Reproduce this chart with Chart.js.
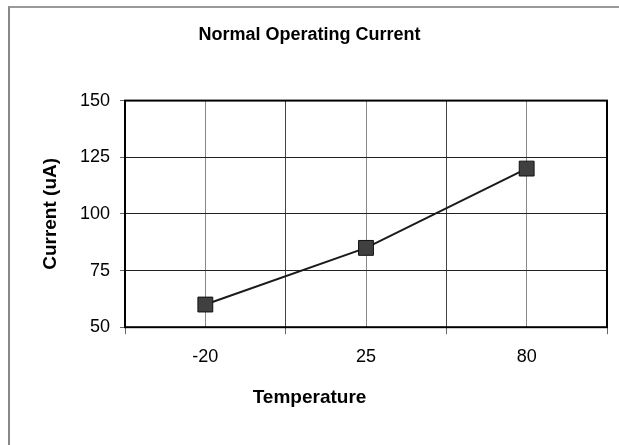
<!DOCTYPE html>
<html>
<head>
<meta charset="utf-8">
<script src="https://cdn.jsdelivr.net/npm/chart.js@4"></script>
<style>
  html, body { margin: 0; padding: 0; background: #fff; overflow: hidden; }
  #frame { position: absolute; left: 8px; top: 6px; width: 700px; height: 500px;
           border-left: 2px solid #888; border-top: 2px solid #999; }
  #chart { position: absolute; left: 0; top: 0; }
</style>
</head>
<body>
<div id="frame"></div>
<canvas id="chart" width="619" height="445"></canvas>
<script>
// datos del gráfico
const temperatures = ['-20', '25', '80'];
const currentUA = [60, 85, 120];
const yTicks = [50, 75, 100, 125, 150];

Chart.defaults.font.family = "'Liberation Sans', Arial, sans-serif";
Chart.defaults.color = '#000';

// borde negro alrededor del área de trazado
const plotBorder = {
  id: 'plotBorder',
  afterDatasetsDraw(chart) {
    const a = chart.chartArea;
    const ctx = chart.ctx;
    ctx.save();
    ctx.strokeStyle = '#000';
    ctx.lineWidth = 2;
    ctx.strokeRect(a.left, a.top, a.right - a.left, a.bottom - a.top);
    ctx.restore();
  }
};

const isCenter = v => Number.isInteger(v);

new Chart(document.getElementById('chart'), {
  type: 'line',
  data: {
    datasets: [{
      label: 'Current (uA)',
      data: currentUA.map((v, i) => ({ x: i, y: v })),
      borderColor: '#1a1a1a',
      borderWidth: 2,
      pointStyle: 'rect',
      pointRadius: 10.5,
      pointBackgroundColor: '#404040',
      pointBorderColor: '#111',
      pointBorderWidth: 1,
      tension: 0
    }]
  },
  options: {
    responsive: false,
    animation: false,
    devicePixelRatio: 1,
    layout: { padding: { left: 12, right: 12, top: 0, bottom: 0 } },
    plugins: {
      legend: { display: false },
      tooltip: { enabled: false },
      title: {
        display: true,
        text: 'Normal Operating Current',
        font: { size: 18, weight: 'bold' },
        padding: { top: 24, bottom: 55 }
      },
      subtitle: {
        display: true,
        position: 'bottom',
        text: 'Temperature',
        font: { size: 19, weight: 'bold' },
        padding: { top: 14, bottom: 36 }
      }
    },
    scales: {
      x: {
        type: 'linear',
        min: -0.5,
        max: 2.5,
        afterFit: s => { s.height = 45; },
        border: { display: false },
        grid: {
          color: c => isCenter(c.tick.value) ? '#888' : '#444',
          tickColor: c => isCenter(c.tick.value) ? 'rgba(0,0,0,0)' : '#666',
          tickLength: 7,
          lineWidth: 1
        },
        ticks: {
          stepSize: 0.5,
          autoSkip: false,
          maxRotation: 0,
          padding: 12,
          font: { size: 18 },
          callback: v => isCenter(v) ? temperatures[v] : ''
        }
      },
      y: {
        min: yTicks[0],
        max: yTicks[yTicks.length - 1],
        afterFit: s => { s.width = 113; },
        border: { display: false },
        grid: { color: '#222', tickColor: '#666', tickLength: 5, lineWidth: 1 },
        ticks: {
          stepSize: 25,
          padding: 10,
          font: { size: 18 }
        },
        title: {
          display: true,
          text: 'Current (uA)',
          font: { size: 19, weight: 'bold' },
          padding: { top: 27, bottom: 0 }
        }
      }
    }
  },
  plugins: [plotBorder]
});
</script>
</body>
</html>
